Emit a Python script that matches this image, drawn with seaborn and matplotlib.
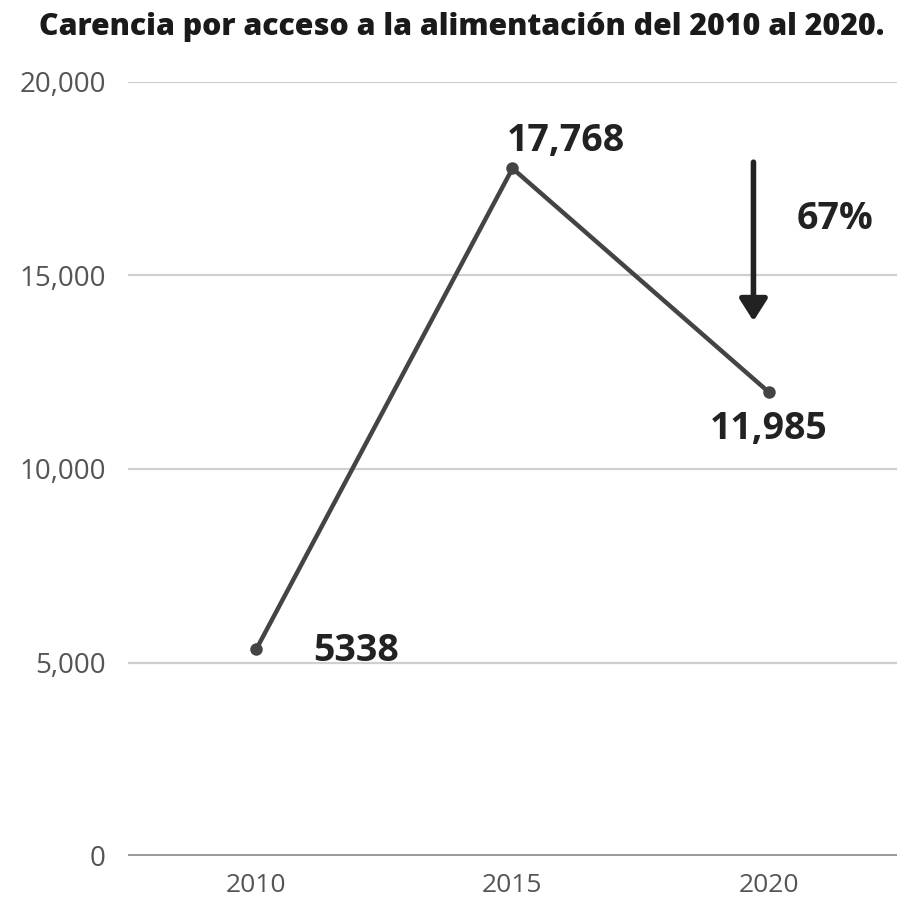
import matplotlib
matplotlib.use('Agg')
import pandas as pd
import matplotlib.pyplot as plt
import seaborn as sns

# data
years = [2010, 2015, 2020]
values = [5338, 17768, 11985]
value_labels = ["5338", "17,768", "11,985"]
y_ticks = [0, 5000, 10000, 15000, 20000]
y_tick_labels = ["0", "5,000", "10,000", "15,000", "20,000"]
title = "Carencia por acceso a la alimentación del 2010 al 2020."
drop_label = "67%"

sns.set_theme(style="white")
plt.rcParams['font.family'] = ['Open Sans', 'DejaVu Sans']

df = pd.DataFrame({"year": years, "value": values})

fig = plt.figure(figsize=(8.97, 9.07), dpi=100)
ax = fig.add_axes([128 / 897, 51 / 907, 1 - 128 / 897, 774 / 907])

sns.lineplot(data=df, x="year", y="value", ax=ax, color="#444444",
             linewidth=3.2, marker="o", markersize=9, markeredgewidth=0,
             clip_on=False)

ax.set_xlim(2007.5, 2022.5)
ax.set_ylim(0, 20000)
ax.set_xticks(years)
ax.set_xticklabels([str(y) for y in years], fontsize=19, color="#555555")
ax.set_yticks(y_ticks)
ax.set_yticklabels(y_tick_labels, fontsize=20, color="#555555")
ax.tick_params(axis="both", length=0)
ax.tick_params(axis="y", pad=16)
ax.tick_params(axis="x", pad=12)
ax.set_xlabel("")
ax.set_ylabel("")

for t in y_ticks[1:]:
    ax.axhline(t, color="#cfcfcf", linewidth=1.6, zorder=0)
ax.axhline(0, color="#999999", linewidth=2.8, zorder=0)
for s in ax.spines.values():
    s.set_visible(False)

# value annotations
offsets = [(2011.95, 5338 - 30), (2016.05, 17768 + 700), (2020.0, 11985 - 950)]
for (x, y), lab in zip(offsets, value_labels):
    ax.text(x, y, lab, fontsize=27, fontweight="bold", color="#222222",
            ha="center", va="center")

# arrow and percent
ax.annotate("", xy=(2019.7, 13750), xytext=(2019.7, 18000),
            arrowprops=dict(arrowstyle="-|>,head_width=0.7,head_length=1.1",
                            color="#222222", lw=4))
ax.text(2021.3, 16450, drop_label, fontsize=27, fontweight="bold",
        color="#222222", ha="center", va="center")

fig.text(462 / 897, 1 - 27 / 907, title, fontsize=21.8, fontweight="heavy",
         color="#1a1a1a", ha="center", va="center")

fig.savefig("out.png", dpi=100)
